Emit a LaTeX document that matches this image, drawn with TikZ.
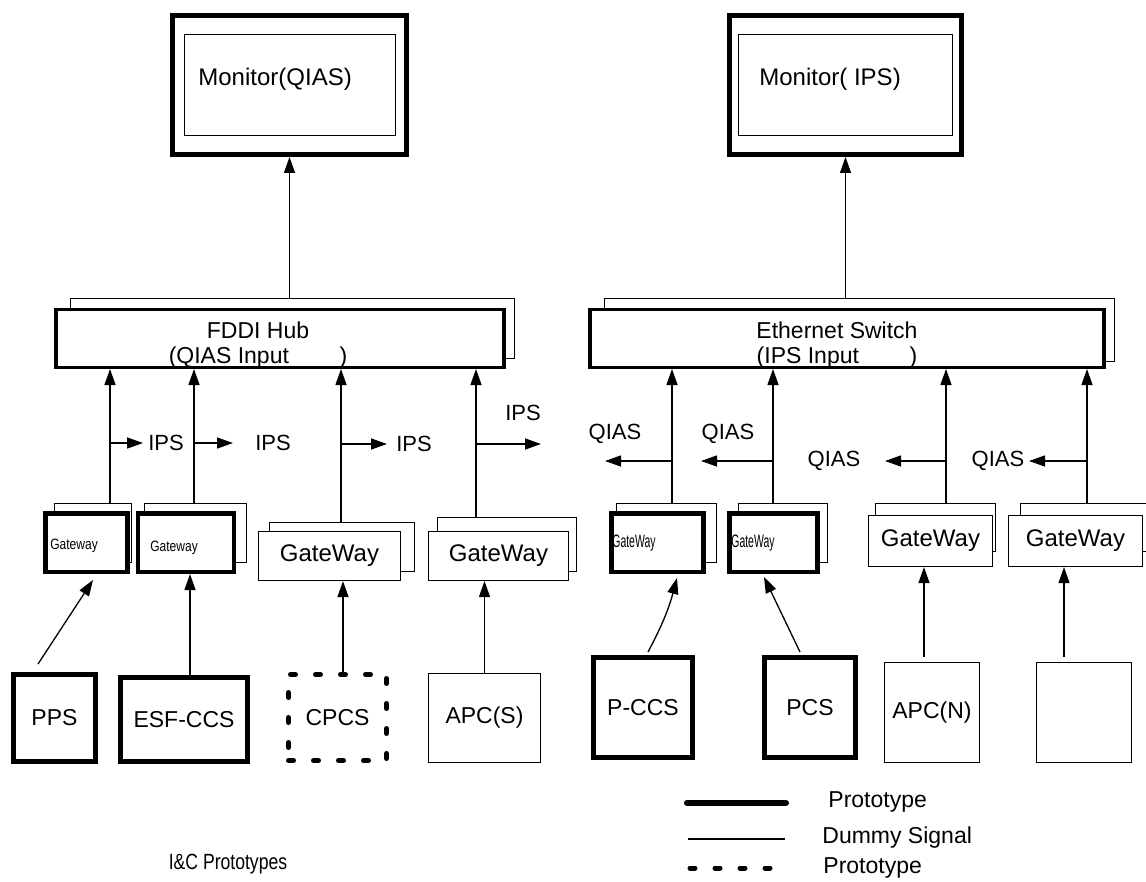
\documentclass[tikz,border=0pt]{standalone}
\usepackage{fontspec}
\setmainfont{Liberation Sans}
\newfontfamily\narrowfont[FakeStretch=0.8]{Liberation Sans}
\newfontfamily\condfont[FakeStretch=0.58]{Liberation Sans}
\usetikzlibrary{positioning,arrows.meta}

\tikzset{
  proto/.style={draw, fill=white, line width=2.25pt, inner sep=0pt, font=\fontsize{11.5}{13}\selectfont},
  dummy/.style={draw, fill=white, line width=0.6pt, inner sep=0pt, font=\fontsize{11.5}{13}\selectfont},
  planned/.style={draw, fill=white, line width=2.5pt, dash pattern=on 2.5pt off 10pt, line cap=round, inner sep=0pt, font=\fontsize{11.5}{13}\selectfont},
  hubbox/.style={draw, fill=white, line width=1.75pt, inner sep=0pt},
  sig/.style={inner sep=0pt, font=\fontsize{11}{13}\selectfont},
  txt/.style={inner sep=0pt, font=\fontsize{11.5}{12.5}\selectfont},
  arr/.style={line width=0.65pt, -{Triangle[length=8pt,width=5.5pt]}},
}

\begin{document}
\begin{tikzpicture}[x=0.5pt,y=-0.5pt]
\useasboundingbox (0,0) rectangle (1146,882);

% Monitors
\node[proto, line width=2.5pt, minimum width=117pt, minimum height=69.5pt] (mq) at (289.5,85) {};
\node[dummy, minimum width=105.5pt, minimum height=50.5pt] (mqi) at (290,85) {};
\node[txt, anchor=west, font=\fontsize{12}{14}\selectfont] (mqt) at (198,79) {Monitor(QIAS)};

\node[proto, line width=2.5pt, minimum width=116pt, minimum height=69.5pt] (mi) at (845.5,85) {};
\node[dummy, minimum width=107pt, minimum height=50.5pt] (mii) at (845.5,85) {};
\node[txt, anchor=west, font=\fontsize{12}{14}\selectfont] (mit) at (759,79) {Monitor( IPS)};

% Hub and switch
\node[dummy, minimum width=222pt, minimum height=30pt] (hqb) at (292.5,328.5) {};
\node[hubbox, minimum width=224pt, minimum height=28.75pt] (hq) at (280,338.5) {};
\node[txt, align=center] (hqt) at (258,345) {FDDI Hub\\(QIAS Input\hspace{2.2em})};

\node[dummy, minimum width=255pt, minimum height=31.5pt] (hsb) at (859.5,330) {};
\node[hubbox, minimum width=257pt, minimum height=28.75pt] (hs) at (847,338.5) {};
\node[txt, align=center] (hst) at (837,345) {Ethernet Switch\\(IPS Input\hspace{2.2em})};

\draw[arr] (hqb.north -| mq.south) -- (mq.south);
\draw[arr] (hsb.north -| mi.south) -- (mi.south);

% Gateways, shadow first
\node[dummy, minimum width=38.5pt, minimum height=29.5pt] (g1b) at (93,533) {};
\node[proto, minimum width=41pt, minimum height=29.25pt] (g1) at (86.5,542.5) {};
\node[dummy, minimum width=51pt, minimum height=29.5pt] (g2b) at (195.5,533) {};
\node[proto, minimum width=48pt, minimum height=29.25pt] (g2) at (186,542.5) {};
\node[dummy, minimum width=72.5pt, minimum height=24.5pt] (g3b) at (342,547) {};
\node[dummy, minimum width=71pt, minimum height=24.5pt, font=\fontsize{12}{14}\selectfont] (g3) at (329.5,556) {GateWay};
\node[dummy, minimum width=69.5pt, minimum height=27pt] (g4b) at (507,544.5) {};
\node[dummy, minimum width=70pt, minimum height=24.5pt, font=\fontsize{12}{14}\selectfont] (g4) at (498.5,556) {GateWay};

\node[dummy, minimum width=50pt, minimum height=29.5pt] (g5b) at (666.5,533) {};
\node[proto, minimum width=46pt, minimum height=29.25pt] (g5) at (657.5,542.5) {};
\node[dummy, minimum width=44.5pt, minimum height=29.5pt] (g6b) at (783,533) {};
\node[proto, minimum width=44pt, minimum height=29.25pt] (g6) at (773.5,542.5) {};
\node[dummy, minimum width=60pt, minimum height=24pt] (g7b) at (935.5,527.5) {};
\node[dummy, minimum width=62pt, minimum height=25.5pt, font=\fontsize{12}{14}\selectfont] (g7) at (930.5,541) {GateWay};
\node[dummy, minimum width=64.5pt, minimum height=24pt] (g8b) at (1085,527.5) {};
\node[dummy, minimum width=67pt, minimum height=25.5pt, font=\fontsize{12}{14}\selectfont] (g8) at (1075.5,541) {GateWay};

\node[inner sep=0pt, anchor=west, font=\narrowfont\fontsize{7.5}{9}\selectfont] (g1t) at (50,546) {Gateway};
\node[inner sep=0pt, anchor=west, font=\narrowfont\fontsize{7.5}{9}\selectfont] (g2t) at (150,548) {Gateway};
\node[inner sep=0pt, anchor=west, font=\condfont\fontsize{9}{10}\selectfont] (g5t) at (612,543) {GateWay};
\node[inner sep=0pt, anchor=west, font=\condfont\fontsize{9}{10}\selectfont] (g6t) at (731,543) {GateWay};

% Gateways up to hub / switch
\foreach \g/\x in {g1b/110, g2b/194, g3b/341, g4b/476}
  \draw[arr] (\g.north -| \x,0) -- (hq.south -| \x,0);
\foreach \g/\x in {g5b/672, g6b/773, g7b/946, g8b/1087}
  \draw[arr] (\g.north -| \x,0) -- (hs.south -| \x,0);

% IPS branches
\foreach \n/\x/\y/\e in {1/110/443/143, 2/194/443/233, 3/341/444/387, 4/476/444/541} {
  \coordinate (ipsa\n) at (\x,\y);
  \coordinate (ipsb\n) at (\e,\y);
  \draw[arr] (ipsa\n) -- (ipsb\n);
}
\node[sig] (ips1) at (166,443) {IPS};
\node[sig] (ips2) at (273,443) {IPS};
\node[sig] (ips3) at (414,444) {IPS};
\node[sig] (ips4) at (523,413) {IPS};

% QIAS branches
\foreach \n/\x/\y/\e in {1/672/461/605, 2/772/461/701, 3/946/461/885, 4/1087/461/1029} {
  \coordinate (qiasa\n) at (\x,\y);
  \coordinate (qiasb\n) at (\e,\y);
  \draw[arr] (qiasa\n) -- (qiasb\n);
}
\node[sig] (qias1) at (615,434) {QIAS};
\node[sig] (qias2) at (728,434) {QIAS};
\node[sig] (qias3) at (834,461) {QIAS};
\node[sig] (qias4) at (998,461) {QIAS};

% Systems
\node[proto, line width=2.5pt, minimum width=41pt, minimum height=43.5pt] (pps) at (54.5,718) {PPS};
\node[proto, line width=2.5pt, minimum width=63.5pt, minimum height=42pt] (esf) at (184,719.5) {ESF-CCS};
\node[planned, minimum width=49pt, minimum height=43pt] (cpcs) at (337.5,717.5) {CPCS};
\node[dummy, minimum width=56pt, minimum height=44.5pt] (apcs) at (484.5,718) {APC(S)};
\node[proto, line width=2.5pt, minimum width=49.5pt, minimum height=50pt] (pccs) at (643,707.5) {P-CCS};
\node[proto, line width=2.5pt, minimum width=45.5pt, minimum height=50pt] (pcs) at (810,707.5) {PCS};
\node[dummy, minimum width=47.5pt, minimum height=50pt] (apcn) at (932,712.5) {APC(N)};
\node[dummy, minimum width=47.5pt, minimum height=50pt] (blank) at (1084,712.5) {};

\draw[arr] ([xshift=-8.25pt,yshift=4pt]pps.north) -- ([xshift=3.25pt,yshift=-3pt]g1.south);
\foreach \b/\g/\dx/\dy in {esf/g2/3/0, cpcs/g3/2.75/0, apcs/g4/0/0, apcn/g7/-4/2.5, blank/g8/-10/2.5} {
  \coordinate (s\b) at ([xshift=\dx pt,yshift=\dy pt]\b.north);
  \draw[arr] (s\b) -- (s\b |- \g.south);
}
\draw[arr] ([xshift=2.5pt,yshift=1.5pt]pccs.north) to[out=62,in=-105] ([xshift=9.75pt,yshift=-2pt]g5.south);
\draw[arr] ([xshift=-5pt,yshift=1.5pt]pcs.north) -- ([xshift=-4.75pt,yshift=-1.5pt]g6.south);

% Legend
\draw[line width=3pt, line cap=round] (687,803) -- (786,803);
\draw[line width=0.6pt] (688,839) -- (785,839);
\draw[line width=2.5pt, dash pattern=on 2.5pt off 10pt, line cap=round] (690,868) -- (770,868);
\node[txt, anchor=west] (lg1) at (828,802) {Prototype};
\node[txt, anchor=west] (lg2) at (822,838) {Dummy Signal};
\node[txt, anchor=west] (lg3) at (823,868) {Prototype};

\node[inner sep=0pt, font=\narrowfont\fontsize{11}{13}\selectfont] (cap) at (228,864) {I\&C Prototypes};

\end{tikzpicture}
\end{document}
